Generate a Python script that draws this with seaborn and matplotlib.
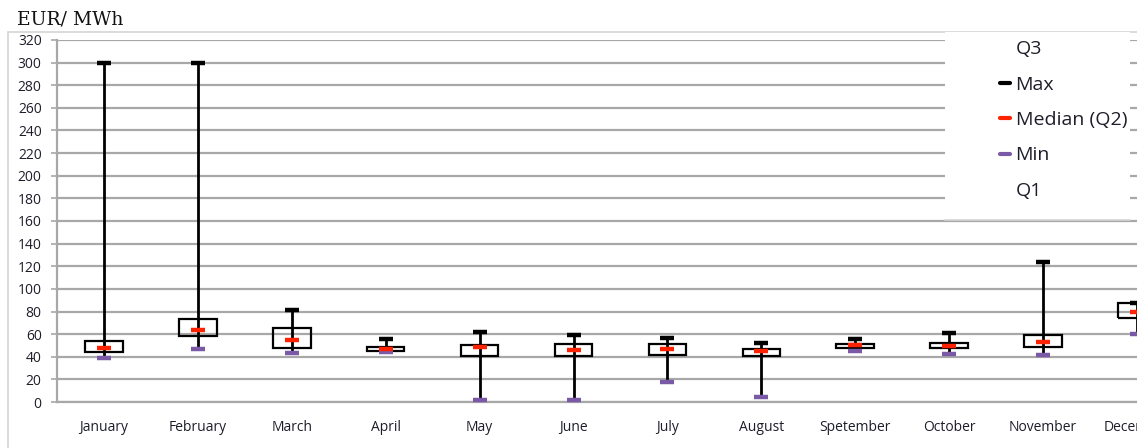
import matplotlib
matplotlib.use("Agg")
import matplotlib.pyplot as plt
from matplotlib.lines import Line2D
from matplotlib.patches import Rectangle
import numpy as np
import pandas as pd
import seaborn as sns

months = ["January", "February", "March", "April", "May", "June", "July",
          "August", "Spetember", "October", "November", "December"]
max_vals = [300, 300, 81, 56, 61.5, 59, 56.5, 52.5, 56, 61, 123.5, 87.5]
q3_vals = [54, 73.5, 65, 48.5, 50.5, 51, 51, 47, 51.5, 52, 59, 87.5]
median_vals = [48, 64, 55, 46.5, 48.5, 46, 46.5, 45.5, 50, 49.5, 53, 80]
q1_vals = [44, 58.5, 48, 45.3, 40.5, 40.5, 41.5, 40.5, 47.5, 47.5, 48.5, 74]
min_vals = [39, 47, 43, 44, 2, 2, 18, 4.5, 45.5, 42, 41.5, 60]
y_ticks = list(range(0, 321, 20))

df = pd.DataFrame({"month": months, "max": max_vals, "q3": q3_vals,
                   "median": median_vals, "q1": q1_vals, "min": min_vals})
df["pos"] = np.arange(len(df))

sns.set_style("white")
plt.rcParams["font.family"] = ["Open Sans", "DejaVu Sans"]

W, H = 1137, 448
fig = plt.figure(figsize=(W / 100, H / 100), dpi=100)
fig.patch.set_facecolor("white")
ax = fig.add_axes([57 / W, 1 - 402 / H, 1 - 57 / W, (402 - 40) / H])

grid_c = "#a8a8a8"
text_c = "#1e1e2a"
ax.set_ylim(0, 320)
ax.set_xlim(-0.5, len(months) - 1 - 0.03)
ax.set_yticks(y_ticks)
ax.yaxis.grid(True, color=grid_c, lw=1.6, zorder=0)
ax.set_axisbelow(True)
for s in ["top", "right"]:
    ax.spines[s].set_visible(False)
for s in ["left", "bottom"]:
    ax.spines[s].set_color(grid_c)
    ax.spines[s].set_linewidth(1.6)

# outer chart frame
fig.patches.append(Rectangle((8 / W, -0.1), 1.2, 1 - 32 / H + 0.1,
                             transform=fig.transFigure, fill=False,
                             edgecolor="#d4d4d4", lw=1.2, zorder=-5))

# whiskers
ax.vlines(df["pos"], df["min"], df["max"], color="black", lw=2, zorder=3)
# boxes Q1-Q3
ax.bar(df["pos"], df["q3"] - df["q1"], bottom=df["q1"], width=0.4,
       fill=False, edgecolor="black", lw=1.6, zorder=3)
# caps
sns.scatterplot(data=df, x="pos", y="max", marker="_", s=90, linewidth=3.2,
                color="black", ax=ax, zorder=4, legend=False)
sns.scatterplot(data=df, x="pos", y="min", marker="_", s=90, linewidth=3.2,
                color="#7a5aa6", ax=ax, zorder=4, legend=False)
sns.scatterplot(data=df, x="pos", y="median", marker="_", s=90, linewidth=3.2,
                color="#ff2200", ax=ax, zorder=5, legend=False)

ax.set_xlabel("")
ax.set_ylabel("")
ax.set_xticks(df["pos"])
ax.set_xticklabels(months)
ax.set_xticks(df["pos"][:-1] + 0.5, minor=True)
ax.tick_params(axis="x", which="major", length=0, pad=13, labelsize=10,
               labelcolor=text_c)
ax.tick_params(axis="x", which="minor", length=5, width=1.2, color=grid_c,
               direction="out")
ax.tick_params(axis="y", which="major", length=4, width=1.2, color=grid_c,
               pad=7, labelsize=10, labelcolor=text_c, left=True)

# legend background (covers the gridlines)
ax.add_patch(Rectangle((945 / W, 1 - 220 / H), (1130 - 945) / W,
                       (220 - 32) / H, transform=fig.transFigure,
                       facecolor="white", edgecolor="none",
                       zorder=6, clip_on=False))
ax.add_line(Line2D([945 / W, 1130 / W], [1 - 220 / H, 1 - 220 / H],
                   transform=fig.transFigure, color="#d4d4d4", lw=1.2,
                   zorder=6.5, clip_on=False))
handles = [
    Line2D([], [], color="none"),
    Line2D([], [], color="black", lw=3),
    Line2D([], [], color="#ff2200", lw=3),
    Line2D([], [], color="#7a5aa6", lw=3),
    Line2D([], [], color="none"),
]
labels = ["Q3", "Max", "Median (Q2)", "Min", "Q1"]
leg = ax.legend(handles, labels, loc="upper left",
                bbox_to_anchor=(1000 / W, 1 - 40 / H),
                bbox_transform=fig.transFigure, frameon=False,
                fontsize=14, handlelength=0.5, handletextpad=0.3,
                labelspacing=0.9, borderpad=0, borderaxespad=0)
leg.set_zorder(7)
for t in leg.get_texts():
    t.set_color(text_c)

fig.text(17 / W, 1 - 19 / H, "EUR/ MWh", fontsize=13.5,
         family=["DejaVu Serif"], va="center", ha="left",
         color="#111111")

fig.savefig("out.png", dpi=100)
